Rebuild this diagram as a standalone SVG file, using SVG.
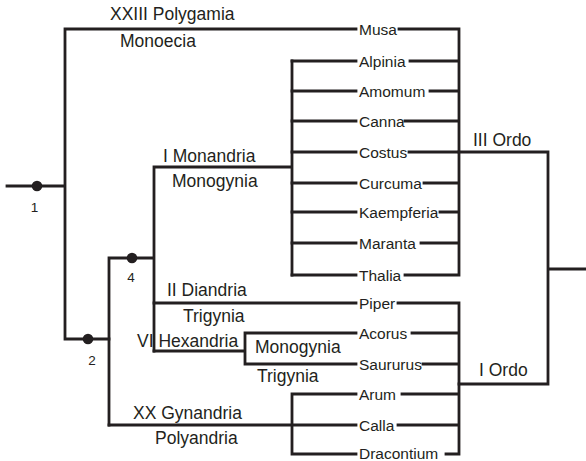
<svg xmlns="http://www.w3.org/2000/svg" width="586" height="461" viewBox="0 0 586 461">
<style>
.ln{fill:none;stroke:#231f20;stroke-width:2.8;stroke-linecap:square;stroke-linejoin:miter}
.t{font-family:"Liberation Sans",Arial,sans-serif;fill:#231f20}
.big{font-size:17.5px}
.g{font-size:15.5px}
.n{font-size:13.5px;text-anchor:middle}
.dot{fill:#231f20}
</style>
<rect width="586" height="461" fill="#fff"/>
<g id="connectors" class="ln">
<path d="M7,186 H65 M65,29 V339 H109 M65,29 H356"/>
<path d="M109,258 V425 M109,258 H154 M154,167 V351 M154,167 H292 M292,61 V275"/>
<path d="M292,61 H356 M292,91 H356 M292,121 H356 M292,152 H356 M292,183 H356 M292,212 H356 M292,243 H356 M292,275 H356"/>
<path d="M154,303 H356 M154,351 H245 M245,333 V364 M245,333 H356 M245,364 H356"/>
<path d="M109,425 H356 M292,394 V454 M292,394 H356 M292,454 H356"/>
<path d="M399,29 H459 M410,61 H459 M430,91 H459 M405,121 H459 M409,152 H459 M424,183 H459 M440,212 H459 M421,243 H459 M405,275 H459 M459,29 V275"/>
<path d="M398,303 H459 M412,333 H459 M423,364 H459 M402,394 H459 M398,425 H459 M446,454 H459 M459,303 V454"/>
<path d="M459,152 H548 M459,384 H548 M548,152 V384 M548,269 H586"/>
</g>
<g id="node1"><circle class="dot" cx="37" cy="186" r="5.3"/><text class="t n" x="34.5" y="212">1</text></g>
<g id="node2"><circle class="dot" cx="88" cy="339" r="5.3"/><text class="t n" x="92" y="365">2</text></g>
<g id="node4"><circle class="dot" cx="132" cy="258" r="5.3"/><text class="t n" x="131" y="282">4</text></g>
<g id="polygamia"><text class="t big" x="110" y="20">XXIII Polygamia</text><text class="t big" x="120" y="47">Monoecia</text></g>
<g id="monandria"><text class="t big" x="163" y="162">I Monandria</text><text class="t big" x="172" y="187">Monogynia</text></g>
<g id="diandria"><text class="t big" x="167" y="296">II Diandria</text><text class="t big" x="183" y="322">Trigynia</text></g>
<g id="hexandria"><text class="t big" x="137" y="347">VI Hexandria</text><text class="t big" x="255" y="353">Monogynia</text><text class="t big" x="257" y="382">Trigynia</text></g>
<g id="gynandria"><text class="t big" x="133" y="419">XX Gynandria</text><text class="t big" x="155" y="444">Polyandria</text></g>
<g id="ordo3"><text class="t big" x="473" y="146">III Ordo</text></g>
<g id="ordo1"><text class="t big" x="479" y="376">I Ordo</text></g>
<g id="musa"><text class="t g" x="359" y="34.5">Musa</text></g>
<g id="alpinia"><text class="t g" x="359" y="66.5">Alpinia</text></g>
<g id="amomum"><text class="t g" x="359" y="96.5">Amomum</text></g>
<g id="canna"><text class="t g" x="359" y="126.5">Canna</text></g>
<g id="costus"><text class="t g" x="359" y="157.5">Costus</text></g>
<g id="curcuma"><text class="t g" x="359" y="188.5">Curcuma</text></g>
<g id="kaempferia"><text class="t g" x="359" y="217.5">Kaempferia</text></g>
<g id="maranta"><text class="t g" x="359" y="248.5">Maranta</text></g>
<g id="thalia"><text class="t g" x="359" y="280.5">Thalia</text></g>
<g id="piper"><text class="t g" x="359" y="308.5">Piper</text></g>
<g id="acorus"><text class="t g" x="359" y="338.5">Acorus</text></g>
<g id="saururus"><text class="t g" x="359" y="369.5">Saururus</text></g>
<g id="arum"><text class="t g" x="359" y="399.5">Arum</text></g>
<g id="calla"><text class="t g" x="359" y="430.5">Calla</text></g>
<g id="dracontium"><text class="t g" x="359" y="458.5">Dracontium</text></g>
</svg>
